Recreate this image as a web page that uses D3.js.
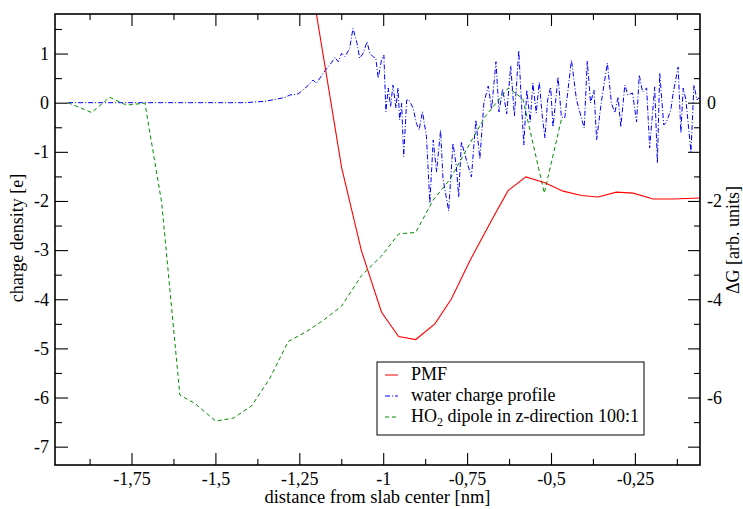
<!DOCTYPE html>
<html lang="en">
<head>
<meta charset="UTF-8"/>
<title>PMF and water charge profile</title>
<script src="https://d3js.org/d3.v7.js"></script>
<style>
  body { margin: 0; background: #fff; }
  svg text { font-family: "Liberation Serif", "Times New Roman", serif; }
</style>
</head>
<body>
<div id="chart"></div>
<script>
// ---- data ----
// x: distance from slab center [nm]
const xMajor = [-1.75, -1.5, -1.25, -1, -0.75, -0.5, -0.25];
const xMinor = [-1.875, -1.625, -1.375, -1.125, -0.875, -0.625, -0.375, -0.125];
const yMajor = [-7, -6, -5, -4, -3, -2, -1, 0, 1];
const yMinor = [-6.5, -5.5, -4.5, -3.5, -2.5, -1.5, -0.5, 0.5, 1.5];
const yRightLabels = [-6, -4, -2, 0];

// PMF (right axis, delta G)
const pmfX = [-1.234, -1.124, -1.065, -1.005, -0.954, -0.903, -0.846, -0.797, -0.742, -0.677,
  -0.628, -0.575, -0.518, -0.464, -0.409, -0.360, -0.305, -0.255, -0.196, -0.136, -0.056];
const pmfY = [3.26, -1.315, -3.01, -4.265, -4.76, -4.82, -4.50, -3.995, -3.22, -2.39,
  -1.79, -1.51, -1.63, -1.80, -1.89, -1.92, -1.82, -1.84, -1.96, -1.96, -1.94];

// HO2 dipole in z-direction (scaled 100:1)
const dipX = [-1.939, -1.869, -1.815, -1.765, -1.710, -1.660, -1.606, -1.561, -1.499, -1.447,
  -1.392, -1.338, -1.283, -1.229, -1.177, -1.124, -1.065, -1.005, -0.954, -0.903,
  -0.851, -0.802, -0.749, -0.697, -0.627, -0.584, -0.520, -0.468];
const dipY = [0, -0.20, 0.11, -0.05, -0.01, -2.04, -5.95, -6.12, -6.48, -6.42,
  -6.17, -5.61, -4.86, -4.66, -4.42, -4.14, -3.52, -3.12, -2.67, -2.64,
  -1.98, -1.57, -0.92, -0.29, 0.30, 0.08, -1.84, -0.31];

// water charge profile
const waterX = [-1.939, -1.412, -1.383, -1.353, -1.323, -1.293, -1.278, -1.254, -1.239, -1.219,
  -1.209, -1.199, -1.179, -1.164, -1.154, -1.144, -1.134, -1.124, -1.114, -1.100,
  -1.090, -1.078, -1.070, -1.060, -1.048, -1.040, -1.030, -1.022, -1.015, -1.005,
  -0.998, -0.992, -0.985, -0.978, -0.971, -0.962, -0.956, -0.951, -0.945, -0.939,
  -0.930, -0.923, -0.911, -0.901, -0.893, -0.883, -0.871, -0.861, -0.851, -0.841,
  -0.829, -0.822, -0.805, -0.792, -0.782, -0.775, -0.767, -0.752, -0.737, -0.724,
  -0.712, -0.700, -0.687, -0.677, -0.664, -0.655, -0.644, -0.632, -0.620, -0.609,
  -0.596, -0.589, -0.581, -0.572, -0.562, -0.554, -0.544, -0.535, -0.526, -0.518,
  -0.510, -0.501, -0.494, -0.479, -0.469, -0.459, -0.439, -0.424, -0.401, -0.392,
  -0.382, -0.372, -0.364, -0.350, -0.332, -0.320, -0.310, -0.300, -0.292, -0.280,
  -0.271, -0.257, -0.245, -0.237, -0.227, -0.215, -0.206, -0.191, -0.183, -0.176,
  -0.164, -0.156, -0.143, -0.136, -0.121, -0.113, -0.106, -0.098, -0.083, -0.074,
  -0.065, -0.057];
const waterY = [0, 0, 0.014, 0.028, 0.065, 0.106, 0.157, 0.177, 0.258, 0.381,
  0.462, 0.395, 0.598, 0.733, 0.814, 0.924, 0.834, 1.005, 0.936, 1.107,
  1.514, 1.209, 0.904, 1.005, 1.241, 1.005, 0.936, 0.904, 0.497, 0.869,
  0.971, -0.183, 0.299, -0.081, 0.360, -0.108, 0.299, -0.352, -0.012, -1.099,
  0.055, 0.055, -0.108, -0.419, -0.556, -0.183, -0.692, -2.047, -0.759, -1.410,
  -0.556, -1.532, -2.204, -0.826, -1.302, -1.919, -0.794, -1.166, -1.512, -0.352,
  -1.146, -0.006, 0.340, -0.128, 0.834, -0.189, 0.279, -0.230, 0.747, -0.271,
  1.062, 0.116, -0.861, 0.258, -0.393, 0.401, -0.210, 0.421, -0.271, -0.719,
  0.055, 0.320, -0.494, 0.523, -0.291, -0.311, 0.869, 0.055, -0.515, 0.849,
  -0.006, 0.258, -0.759, 0.014, 0.808, -0.006, -0.210, 0.116, -0.494, 0.360,
  0.157, 0.197, -0.393, 0.564, 0.218, 0.299, -0.922, 0.320, -1.227, 0.604,
  -0.454, -0.393, -0.149, 0.197, 0.727, -0.617, 0.299, 0.055, -1.003, 0.360,
  0.055, 0.116];

const legendNames = ["PMF", "water charge profile", "HO2 dipole in z-direction 100:1"];

// ---- chart ----
const margin = {top: 14, right: 43, bottom: 44, left: 55},
    width = 743 - margin.left - margin.right,
    height = 509 - margin.top - margin.bottom;

const svg = d3.select("#chart")
  .append("svg")
    .attr("width", width + margin.left + margin.right)
    .attr("height", height + margin.top + margin.bottom)
  .append("g")
    .attr("transform", `translate(${margin.left},${margin.top})`);

const x = d3.scaleLinear().domain([-1.978, -0.056]).range([0, width]);
const y = d3.scaleLinear().domain([-7.373, 1.805]).range([height, 0]);
const yRight = d3.scaleLinear().domain([-7.373, 1.805]).range([height, 0]);

const comma = d => String(d).replace(".", ",");

function styleAxis(g) {
  g.select(".domain").remove();
  g.attr("font-size", 18).attr("font-family", null);
  g.selectAll("line").attr("stroke", "#000").attr("stroke-width", 1.1);
  g.selectAll("text").attr("fill", "#000");
}

// bottom
svg.append("g")
  .attr("transform", `translate(0,${height})`)
  .call(d3.axisBottom(x).tickValues(xMajor).tickSizeInner(-12).tickSizeOuter(0).tickPadding(7).tickFormat(comma))
  .call(styleAxis);
svg.append("g")
  .attr("transform", `translate(0,${height})`)
  .call(d3.axisBottom(x).tickValues(xMinor).tickSizeInner(-6).tickSizeOuter(0).tickFormat(""))
  .call(styleAxis);

// top
svg.append("g")
  .call(d3.axisTop(x).tickValues(xMajor).tickSizeInner(-12).tickSizeOuter(0).tickFormat(""))
  .call(styleAxis);
svg.append("g")
  .call(d3.axisTop(x).tickValues(xMinor).tickSizeInner(-6).tickSizeOuter(0).tickFormat(""))
  .call(styleAxis);

// left
svg.append("g")
  .call(d3.axisLeft(y).tickValues(yMajor).tickSizeInner(-13).tickSizeOuter(0).tickPadding(6).tickFormat(comma))
  .call(styleAxis);
svg.append("g")
  .call(d3.axisLeft(y).tickValues(yMinor).tickSizeInner(-7).tickSizeOuter(0).tickFormat(""))
  .call(styleAxis);

// right
svg.append("g")
  .attr("transform", `translate(${width},0)`)
  .call(d3.axisRight(yRight).tickValues(yMajor).tickSizeInner(-12).tickSizeOuter(0).tickPadding(7)
    .tickFormat(d => yRightLabels.includes(d) ? comma(d) : ""))
  .call(styleAxis);
svg.append("g")
  .attr("transform", `translate(${width},0)`)
  .call(d3.axisRight(yRight).tickValues(yMinor).tickSizeInner(-6).tickSizeOuter(0).tickFormat(""))
  .call(styleAxis);

// clip for the curves
svg.append("clipPath").attr("id", "clip")
  .append("rect").attr("width", width).attr("height", height);

const plot = svg.append("g").attr("clip-path", "url(#clip)");

const line = d3.line().x(d => x(d[0])).y(d => y(d[1]));
const lineRight = d3.line().x(d => x(d[0])).y(d => yRight(d[1]));

plot.append("path")
  .datum(d3.zip(waterX, waterY))
  .attr("fill", "none")
  .attr("stroke", "#0000ff")
  .attr("stroke-width", 1)
  .attr("stroke-dasharray", "5,2,1,2")
  .attr("d", line);

plot.append("path")
  .datum(d3.zip(dipX, dipY))
  .attr("fill", "none")
  .attr("stroke", "#008b00")
  .attr("stroke-width", 1)
  .attr("stroke-dasharray", "4,3")
  .attr("d", line);

plot.append("path")
  .datum(d3.zip(pmfX, pmfY))
  .attr("fill", "none")
  .attr("stroke", "#ff0000")
  .attr("stroke-width", 1.1)
  .attr("d", lineRight);

// frame
svg.append("rect")
  .attr("width", width)
  .attr("height", height)
  .attr("fill", "none")
  .attr("stroke", "#000")
  .attr("stroke-width", 1.6);

// axis titles
svg.append("text")
  .attr("text-anchor", "middle")
  .attr("x", width / 2)
  .attr("y", height + 38)
  .attr("font-size", 18.5)
  .text("distance from slab center [nm]");

svg.append("text")
  .attr("text-anchor", "middle")
  .attr("transform", `translate(${-32},${224}) rotate(-90)`)
  .attr("font-size", 18)
  .text("charge density [e]");

svg.append("text")
  .attr("text-anchor", "middle")
  .attr("transform", `translate(${width + 39},${226}) rotate(-90)`)
  .attr("font-size", 18)
  .text("\u0394G [arb. units]");

// legend
const legend = svg.append("g").attr("transform", `translate(${377 - margin.left},${362 - margin.top})`);
legend.append("rect")
  .attr("width", 267).attr("height", 73)
  .attr("fill", "#fff").attr("stroke", "#000").attr("stroke-width", 1);

const legendStyles = [
  {color: "#ff0000", dash: null},
  {color: "#0000ff", dash: "5,2,1,2"},
  {color: "#008b00", dash: "4,3"}
];
legendNames.forEach((name, i) => {
  const yy = 13 + i * 21;
  legend.append("line")
    .attr("x1", 8).attr("x2", 21).attr("y1", yy).attr("y2", yy)
    .attr("stroke", legendStyles[i].color)
    .attr("stroke-dasharray", legendStyles[i].dash);
  const t = legend.append("text")
    .attr("x", 34).attr("y", yy + 5)
    .attr("font-size", 18);
  if (name.startsWith("HO2")) {
    t.append("tspan").text("HO");
    t.append("tspan").attr("font-size", 12).attr("dy", 4).text("2");
    t.append("tspan").attr("dy", -4).text(name.slice(3));
  } else {
    t.text(name);
  }
});
</script>
</body>
</html>
